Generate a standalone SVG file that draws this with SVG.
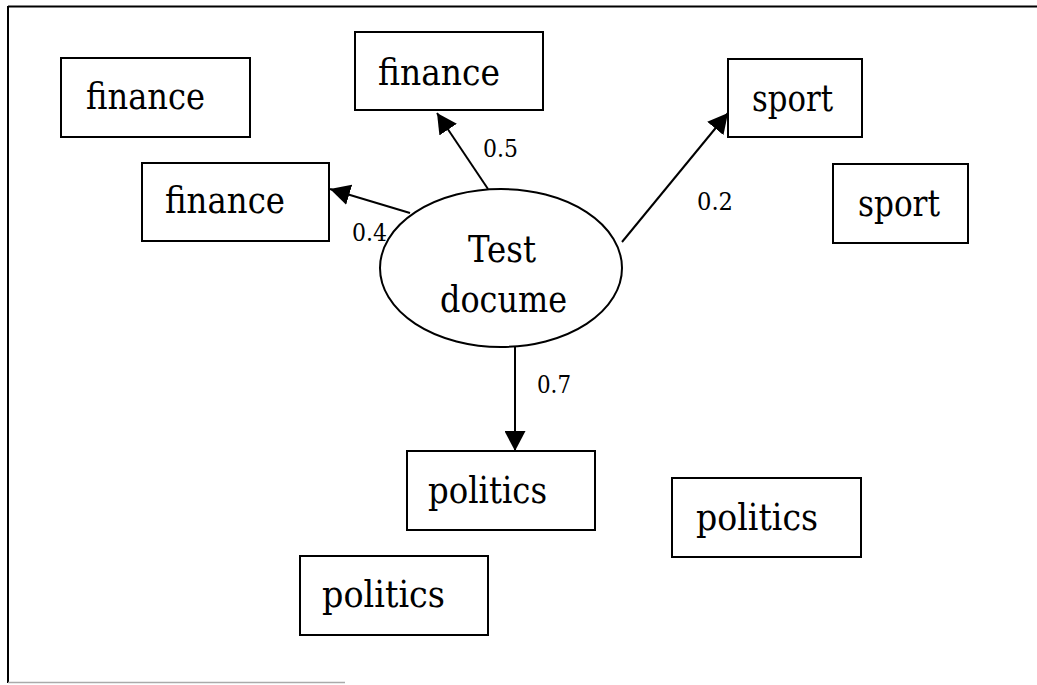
<svg xmlns="http://www.w3.org/2000/svg" width="1037" height="685" viewBox="0 0 1037 685">
  <style>
    .box { fill: #fff; stroke: #000; stroke-width: 2; }
    .oval { fill: #fff; stroke: #000; stroke-width: 2; }
    text { font-family: 'DejaVu Serif', 'Liberation Serif', serif; fill: #000; }
    .lbl { font-size: 38px; }
    .w { font-size: 25px; }
    .edge { fill: none; stroke: #000; stroke-width: 2; }
  </style>
  <defs>
    <marker id="arrow" viewBox="0 0 20 21" refX="20" refY="10.5" markerWidth="20" markerHeight="21" markerUnits="userSpaceOnUse" orient="auto">
      <path d="M0,0 L20,10.5 L0,21 z" fill="#000"/>
    </marker>
  </defs>

  <rect width="1037" height="685" fill="#fff"/>

  <!-- frame -->
  <g id="frame">
    <line x1="8" y1="6.5" x2="1037" y2="6.5" stroke="#000" stroke-width="2"/>
    <line x1="8" y1="6" x2="8" y2="683" stroke="#000" stroke-width="2"/>
    <line x1="8" y1="682.5" x2="345" y2="682.5" stroke="#aaa" stroke-width="1.5"/>
  </g>

  <!-- connectors -->
  <g id="connectors">
    <line class="edge" x1="488" y1="189" x2="437" y2="113" marker-end="url(#arrow)"/>
    <line class="edge" x1="410" y1="213" x2="330" y2="189" marker-end="url(#arrow)"/>
    <line class="edge" x1="622" y1="242" x2="728" y2="113" marker-end="url(#arrow)"/>
    <line class="edge" x1="515" y1="346" x2="515" y2="451" marker-end="url(#arrow)"/>
    <text class="w" x="483" y="157" textLength="35" lengthAdjust="spacingAndGlyphs">0.5</text>
    <text class="w" x="352" y="241" textLength="35" lengthAdjust="spacingAndGlyphs">0.4</text>
    <text class="w" x="697" y="210" textLength="36" lengthAdjust="spacingAndGlyphs">0.2</text>
    <text class="w" x="537" y="393" textLength="34" lengthAdjust="spacingAndGlyphs">0.7</text>
  </g>

  <g id="test-document">
    <ellipse class="oval" cx="501" cy="268" rx="121" ry="79"/>
    <text class="lbl" x="468" y="262" textLength="68" lengthAdjust="spacingAndGlyphs">Test</text>
    <text class="lbl" x="440" y="312" textLength="127" lengthAdjust="spacingAndGlyphs">docume</text>
  </g>

  <g id="finance-1">
    <rect class="box" x="61" y="58" width="189" height="79"/>
    <text class="lbl" x="86" y="109" textLength="119" lengthAdjust="spacingAndGlyphs">finance</text>
  </g>
  <g id="finance-2">
    <rect class="box" x="142" y="163" width="187" height="78"/>
    <text class="lbl" x="165" y="213" textLength="120" lengthAdjust="spacingAndGlyphs">finance</text>
  </g>
  <g id="finance-3">
    <rect class="box" x="355" y="32" width="188" height="78"/>
    <text class="lbl" x="378" y="85" textLength="122" lengthAdjust="spacingAndGlyphs">finance</text>
  </g>
  <g id="sport-1">
    <rect class="box" x="728" y="59" width="134" height="78"/>
    <text class="lbl" x="752" y="111" textLength="81" lengthAdjust="spacingAndGlyphs">sport</text>
  </g>
  <g id="sport-2">
    <rect class="box" x="833" y="164" width="135" height="79"/>
    <text class="lbl" x="858" y="216" textLength="82" lengthAdjust="spacingAndGlyphs">sport</text>
  </g>
  <g id="politics-1">
    <rect class="box" x="407" y="451" width="188" height="79"/>
    <text class="lbl" x="428" y="503" textLength="119" lengthAdjust="spacingAndGlyphs">politics</text>
  </g>
  <g id="politics-2">
    <rect class="box" x="300" y="556" width="188" height="79"/>
    <text class="lbl" x="322" y="607" textLength="123" lengthAdjust="spacingAndGlyphs">politics</text>
  </g>
  <g id="politics-3">
    <rect class="box" x="672" y="478" width="189" height="79"/>
    <text class="lbl" x="696" y="530" textLength="122" lengthAdjust="spacingAndGlyphs">politics</text>
  </g>
</svg>
